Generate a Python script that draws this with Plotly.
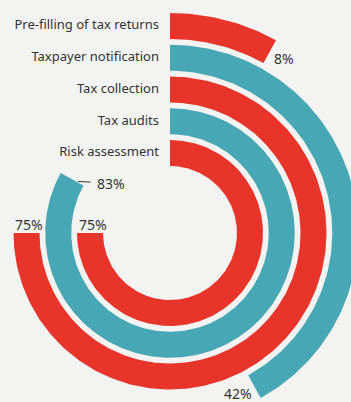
import numpy as np
import plotly.graph_objects as go

# Data: share of administrations using the practice, outermost ring first
categories = [
    "Pre-filling of tax returns",
    "Taxpayer notification",
    "Tax collection",
    "Tax audits",
    "Risk assessment",
]
values = [8, 42, 75, 83, 75]
value_labels = ["8%", "42%", "75%", "83%", "75%"]

RED = "#e8352b"
TEAL = "#47a7b4"
ring_colors = [RED, TEAL, RED, TEAL, RED]
BG = "#f3f3f1"
TEXT = "#333333"
FONT = "Noto Sans"

# Canvas and ring geometry (1 axis unit = 1 pixel, origin at the ring centre)
W, H = 351, 402
CX, CY = 170, 233
R_OUTER = 220.0
R_STEP = 31.75
R_THICK = 26.0


def ring_radii(i):
    r_out = R_OUTER - i * R_STEP
    return r_out - R_THICK, r_out


def polar_xy(r, deg):
    """Clockwise angle from 12 o'clock -> x/y on the axes."""
    a = np.radians(deg)
    return r * np.sin(a), r * np.cos(a)


def arc_polygon(r_in, r_out, pct):
    sweep = pct * 3.6
    t = np.linspace(0.0, sweep, int(sweep) + 2)
    xo, yo = polar_xy(r_out, t)
    xi, yi = polar_xy(r_in, t[::-1])
    x = np.concatenate([xo, xi, xo[:1]])
    y = np.concatenate([yo, yi, yo[:1]])
    return x, y


fig = go.Figure()

# Radial bars
for i, (cat, val, col) in enumerate(zip(categories, values, ring_colors)):
    r_in, r_out = ring_radii(i)
    x, y = arc_polygon(r_in, r_out, val)
    fig.add_trace(go.Scatter(
        x=x, y=y, mode="lines", fill="toself",
        fillcolor=col, line=dict(width=0, color=col),
        name=cat, hoverinfo="name", showlegend=False,
    ))

# Category labels, right-aligned just left of where each bar starts
mids = [sum(ring_radii(i)) / 2 for i in range(len(categories))]
fig.add_trace(go.Scatter(
    x=[-11] * len(categories), y=mids, mode="text",
    text=categories, textposition="middle left",
    textfont=dict(family=FONT, size=13, color=TEXT),
    hoverinfo="skip", showlegend=False, cliponaxis=False,
))

# Value labels placed relative to the end of each bar
label_style = [
    # (radius part, xanchor, yanchor, xshift, yshift)
    ("mid", "left", "middle", 2, -7),
    ("mid", "center", "middle", -16, -7),
    ("out", "left", "bottom", -1, -3),
    None,
    ("out", "left", "bottom", 0, -3),
]
annotations = []
for i, (val, lab, sty) in enumerate(zip(values, value_labels, label_style)):
    r_in, r_out = ring_radii(i)
    if sty is None:
        # leader dash pointing back to the bar end
        ex, ey = polar_xy((r_in + r_out) / 2, val * 3.6)
        annotations.append(dict(
            x=ex, y=ey, xref="x", yref="y", text=lab,
            showarrow=True, arrowhead=0, arrowwidth=1, arrowcolor=TEXT,
            ax=39, ay=2, yshift=-2, standoff=6, borderpad=6,
            xanchor="center", yanchor="middle",
            font=dict(family=FONT, size=14, color=TEXT),
        ))
        continue
    part, xa, ya, dx, dy = sty
    r = {"mid": (r_in + r_out) / 2, "out": r_out}[part]
    ex, ey = polar_xy(r, val * 3.6)
    annotations.append(dict(
        x=ex, y=ey, xref="x", yref="y", text=lab, showarrow=False,
        xanchor=xa, yanchor=ya, xshift=dx, yshift=dy,
        font=dict(family=FONT, size=14, color=TEXT),
    ))

fig.update_layout(
    width=W, height=H,
    margin=dict(l=0, r=0, t=0, b=0),
    paper_bgcolor=BG, plot_bgcolor=BG,
    xaxis=dict(range=[-CX, W - CX], visible=False, fixedrange=True),
    yaxis=dict(range=[-(H - CY), CY], visible=False, fixedrange=True),
    annotations=annotations,
    showlegend=False,
)

fig.write_html("out.html")
